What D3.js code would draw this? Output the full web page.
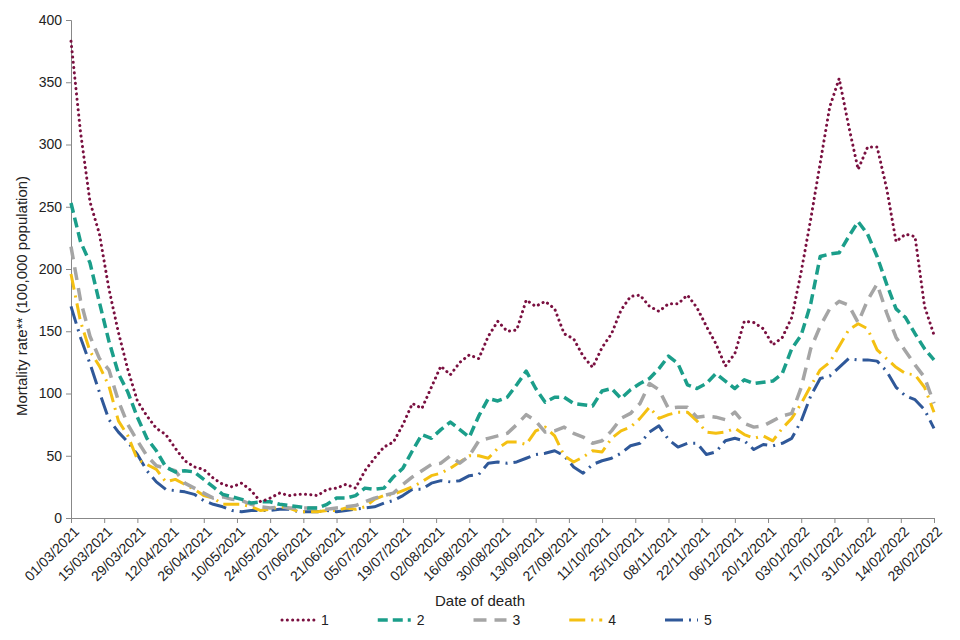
<!DOCTYPE html>
<html>
<head>
<meta charset="utf-8">
<script src="https://cdn.jsdelivr.net/npm/d3@7"></script>
<style>
  body { margin: 0; background: #fff; }
  svg { font-family: "Liberation Sans", Arial, sans-serif; }
</style>
</head>
<body>
<div id="chart"></div>
<script>
// values read every 4 days, from 01/03/2021 to 28/02/2022
const startDate = new Date(2021, 2, 1);
const endDate = new Date(2022, 1, 28);
const stepDays = 4;

const series1 = [383, 310, 254, 228, 184, 149, 119, 94, 82, 72, 67, 56, 46, 41, 39, 32, 27, 25, 28, 22,
  13, 16, 20, 18, 19, 19, 18, 23, 24, 27, 24, 38, 48, 57, 61, 75, 92, 88, 105, 122,
  115, 125, 131, 128, 146, 158, 150, 151, 175, 170, 174, 168, 148, 144, 130, 121, 137, 148, 167, 178,
  179, 170, 166, 172, 172, 179, 169, 154, 140, 122, 132, 158, 157, 152, 139, 145, 161, 198, 240, 285,
  330, 353, 315, 280, 298, 298, 265, 222, 228, 226, 170, 147];
const series2 = [253, 222, 205, 173, 142, 116, 101, 81, 64, 54, 41, 37, 38, 37, 31, 25, 19, 17, 15, 12,
  13, 13, 11, 10, 9, 8, 8, 11, 16, 16, 18, 24, 23, 24, 33, 40, 54, 67, 64, 71,
  77, 71, 65, 82, 96, 94, 97, 107, 118, 104, 93, 97, 97, 92, 91, 90, 102, 104, 96, 103,
  108, 112, 120, 130, 124, 107, 104, 108, 116, 110, 104, 111, 108, 109, 110, 116, 136, 147, 172, 210,
  212, 213, 226, 238, 228, 210, 188, 168, 161, 148, 136, 127];
const series3 = [218, 175, 146, 128, 119, 94, 75, 62, 50, 42, 40, 38, 28, 24, 20, 16, 17, 15, 14, 11,
  9, 8, 9, 8, 8, 8, 8, 7, 8, 9, 10, 13, 16, 18, 20, 27, 33, 38, 43, 44,
  50, 44, 50, 62, 64, 66, 68, 75, 83, 78, 69, 70, 73, 68, 65, 60, 62, 70, 80, 84,
  92, 108, 103, 88, 89, 89, 81, 82, 81, 79, 85, 76, 73, 74, 78, 82, 84, 105, 136, 154,
  168, 174, 171, 157, 175, 188, 165, 145, 134, 123, 113, 92];
const series4 = [196, 158, 134, 122, 106, 78, 66, 47, 43, 39, 29, 31, 27, 23, 18, 16, 11, 11, 11, 9,
  6, 7, 9, 8, 5, 5, 5, 6, 6, 8, 7, 9, 15, 18, 19, 22, 25, 29, 34, 36,
  40, 45, 50, 50, 48, 56, 61, 61, 59, 70, 73, 66, 50, 45, 49, 54, 53, 64, 70, 73,
  80, 89, 80, 83, 85, 85, 78, 69, 68, 69, 72, 67, 64, 66, 62, 72, 80, 92, 106, 119,
  125, 138, 151, 156, 152, 135, 128, 121, 116, 115, 105, 85];
const series5 = [170, 145, 124, 101, 79, 69, 61, 51, 38, 29, 23, 22, 21, 19, 14, 11, 9, 6, 5, 6,
  6, 6, 7, 7, 5, 5, 5, 6, 5, 6, 7, 8, 9, 12, 14, 18, 23, 23, 28, 30,
  29, 30, 34, 35, 44, 45, 44, 45, 48, 51, 52, 54, 50, 41, 36, 43, 46, 48, 52, 58,
  60, 69, 74, 63, 57, 60, 60, 51, 53, 62, 64, 62, 55, 59, 58, 60, 64, 78, 98, 112,
  114, 121, 128, 127, 127, 126, 118, 105, 98, 95, 87, 72];

const seriesNames = ["1", "2", "3", "4", "5"];
const seriesValues = [series1, series2, series3, series4, series5];
const yTicks = [0, 50, 100, 150, 200, 250, 300, 350, 400];
const xTickStepDays = 14;

const styles = [
  { color: "#7a1040", width: 3, dash: "0.1 5.2", cap: "round" },
  { color: "#1b9e8a", width: 3.5, dash: "10 5", cap: "butt" },
  { color: "#a5a5a5", width: 3.5, dash: "13 8", cap: "butt" },
  { color: "#f4c012", width: 3, dash: "16 6 2 6", cap: "butt" },
  { color: "#2f5899", width: 3, dash: "18 6 2 6", cap: "butt" }
];

const width = 960, height = 640;
const margin = { top: 20, right: 26, bottom: 122, left: 71 };

const svg = d3.select("#chart").append("svg")
  .attr("width", width)
  .attr("height", height);

const x = d3.scaleTime()
  .domain([startDate, endDate])
  .range([margin.left, width - margin.right]);

const y = d3.scaleLinear()
  .domain([0, 400])
  .range([height - margin.bottom, margin.top]);

const data = seriesValues.map((vals, i) => ({
  name: seriesNames[i],
  style: styles[i],
  points: vals.map((v, j) => ({ date: d3.timeDay.offset(startDate, j * stepDays), value: v }))
}));

// y axis
const yAxis = svg.append("g")
  .attr("transform", `translate(${margin.left},0)`)
  .call(d3.axisLeft(y).tickValues(yTicks).tickSize(5).tickPadding(4));
yAxis.selectAll("text").style("font-size", "14px").attr("fill", "#222");

// x axis
const xTicks = d3.range(0, 365, xTickStepDays).map(d => d3.timeDay.offset(startDate, d));
const xAxis = svg.append("g")
  .attr("transform", `translate(0,${height - margin.bottom})`)
  .call(d3.axisBottom(x).tickValues(xTicks).tickSize(5).tickFormat(d3.timeFormat("%d/%m/%Y")));
xAxis.selectAll("text")
  .style("font-size", "14px")
  .attr("fill", "#222")
  .attr("text-anchor", "end")
  .attr("dx", "-0.3em")
  .attr("dy", "0.6em")
  .attr("transform", "rotate(-45)");

svg.selectAll(".domain, .tick line").attr("stroke", "#888");

// lines
const line = d3.line()
  .x(d => x(d.date))
  .y(d => y(d.value));

svg.append("g").selectAll("path")
  .data(data.slice().reverse())
  .join("path")
  .attr("d", d => line(d.points))
  .attr("fill", "none")
  .attr("stroke", d => d.style.color)
  .attr("stroke-width", d => d.style.width)
  .attr("stroke-dasharray", d => d.style.dash)
  .attr("stroke-linecap", d => d.style.cap)
  .attr("stroke-linejoin", "round");

// axis titles
svg.append("text")
  .attr("x", 480)
  .attr("y", 606)
  .attr("text-anchor", "middle")
  .style("font-size", "15px")
  .attr("fill", "#222")
  .text("Date of death");

svg.append("text")
  .attr("transform", "translate(27,296) rotate(-90)")
  .attr("text-anchor", "middle")
  .style("font-size", "15px")
  .attr("fill", "#222")
  .text("Mortality rate** (100,000 population)");

// legend
const legendX = d3.scalePoint().domain(seriesNames).range([282, 665]);
const legend = svg.append("g").selectAll("g")
  .data(data)
  .join("g")
  .attr("transform", d => `translate(${legendX(d.name)},620)`);

legend.append("line")
  .attr("x1", 0).attr("x2", 33)
  .attr("stroke", d => d.style.color)
  .attr("stroke-width", d => d.style.width)
  .attr("stroke-dasharray", d => d.style.dash)
  .attr("stroke-linecap", d => d.style.cap);

legend.append("text")
  .attr("x", 39)
  .attr("dy", "0.35em")
  .style("font-size", "14px")
  .attr("fill", "#222")
  .text(d => d.name);
</script>
</body>
</html>
